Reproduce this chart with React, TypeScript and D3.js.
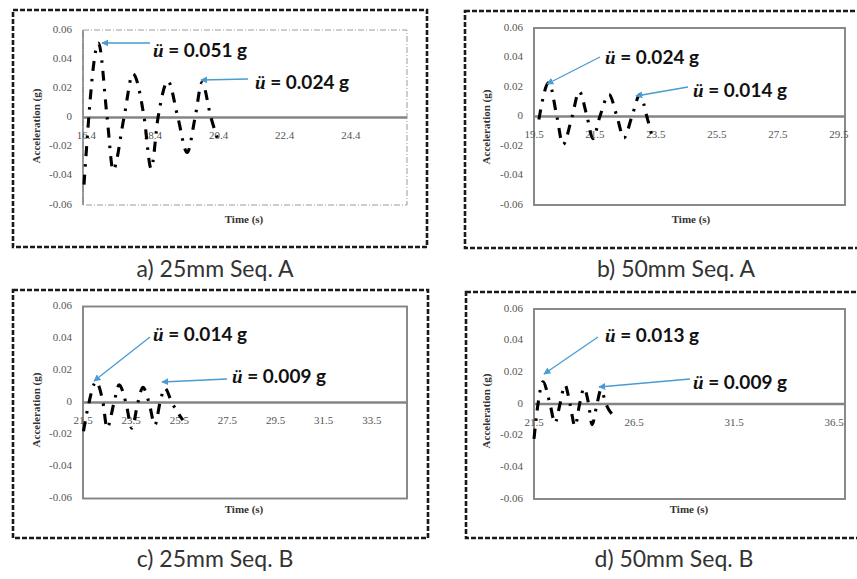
import React from "react";
import * as d3 from "d3";

// ---- data ----
const timeA = [16.33, 16.77, 17.03, 17.21, 17.54, 17.81, 18.15, 18.36, 18.57, 18.87, 19.17, 19.45, 19.69, 19.9, 20.17, 20.44];
const accelA = [-0.046, 0.051, 0, -0.036, 0, 0.03, 0, -0.035, 0, 0.025, 0, -0.024, 0, 0.024, 0, -0.019];

const timeB = [19.66, 19.99, 20.25, 20.45, 20.75, 20.98, 21.24, 21.43, 21.66, 21.96, 22.22, 22.45, 22.71, 22.98, 23.2, 23.37];
const accelB = [-0.002, 0.023, 0, -0.019, 0, 0.017, 0, -0.015, 0, 0.015, 0, -0.0145, 0, 0.015, 0, -0.013];

const timeC = [21.52, 21.75, 22.04, 22.33, 22.5, 22.79, 23.0, 23.28, 23.53, 23.78, 23.99, 24.24, 24.49, 24.7, 24.9, 25.19, 25.65];
const accelC = [-0.018, 0, 0.013, 0, -0.016, 0, 0.011, 0, -0.016, 0, 0.0095, 0, -0.014, 0, 0.009, 0, -0.011];

const timeD = [21.5, 21.7, 21.95, 22.3, 22.55, 22.8, 23.05, 23.3, 23.55, 23.78, 24.0, 24.23, 24.4, 24.65, 24.85, 25.1, 25.6];
const accelD = [-0.022, 0, 0.014, 0, -0.012, 0, 0.012, 0, -0.014, 0, 0.01, 0, -0.013, 0, 0.009, 0, -0.009];

const ticksA = [16.4, 18.4, 20.4, 22.4, 24.4];
const ticksB = [19.5, 21.5, 23.5, 25.5, 27.5, 29.5];
const ticksC = [21.5, 23.5, 25.5, 27.5, 29.5, 31.5, 33.5];
const ticksD = [21.5, 26.5, 31.5, 36.5];
const yTicks = [-0.06, -0.04, -0.02, 0, 0.02, 0.04, 0.06];

const domainA = [16.3, 26.1];
const domainB = [19.5, 29.7];
const domainC = [21.5, 34.96];
const domainD = [21.5, 37.05];

const peaksA = ["0.051", "0.024"];
const peaksB = ["0.024", "0.014"];
const peaksC = ["0.014", "0.009"];
const peaksD = ["0.013", "0.009"];

const captions = ["a) 25mm Seq. A", "b) 50mm Seq. A", "c) 25mm Seq. B", "d) 50mm Seq. B"];
const yTitle = "Acceleration (g)";
const xTitle = "Time (s)";

type Ann = { tx: number; ty: number; ax1: number; ay1: number; ax2: number; ay2: number };

const layouts = [
  {
    box: [13, 10, 427, 247], plot: { l: 83, t: 30, r: 407, b: 205 }, dashedPlot: true,
    cap: [215, 277], yt: [37, 126], xt: [244, 220],
    anns: [
      { tx: 153, ty: 57, ax1: 150, ay1: 43, ax2: 102, ay2: 43 },
      { tx: 255, ty: 89, ax1: 248, ay1: 79, ax2: 201, ay2: 80 },
    ] as Ann[],
  },
  {
    box: [465, 11, 880, 248], plot: { l: 534, t: 28, r: 845, b: 205 }, dashedPlot: false,
    cap: [676, 277], yt: [487, 127], xt: [691, 220],
    anns: [
      { tx: 605, ty: 64, ax1: 600, ay1: 57, ax2: 547, ay2: 84 },
      { tx: 693, ty: 97, ax1: 688, ay1: 87, ax2: 636, ay2: 96 },
    ] as Ann[],
  },
  {
    box: [13, 290, 428, 538], plot: { l: 83, t: 306.5, r: 407, b: 498.5 }, dashedPlot: false,
    cap: [215, 567], yt: [37, 410], xt: [244, 510],
    anns: [
      { tx: 153, ty: 341, ax1: 150, ay1: 337, ax2: 94, ay2: 381 },
      { tx: 232, ty: 383, ax1: 227, ay1: 379, ax2: 162, ay2: 382 },
    ] as Ann[],
  },
  {
    box: [466, 292, 880, 538], plot: { l: 534, t: 309, r: 845, b: 499 }, dashedPlot: false,
    cap: [674, 567], yt: [487, 411], xt: [689, 510],
    anns: [
      { tx: 605, ty: 342, ax1: 598, ay1: 337, ax2: 544, ay2: 374 },
      { tx: 693, ty: 389, ax1: 690, ay1: 379, ax2: 599, ay2: 387 },
    ] as Ann[],
  },
];

const series = [
  { t: timeA, a: accelA, ticks: ticksA, domain: domainA, peaks: peaksA },
  { t: timeB, a: accelB, ticks: ticksB, domain: domainB, peaks: peaksB },
  { t: timeC, a: accelC, ticks: ticksC, domain: domainC, peaks: peaksC },
  { t: timeD, a: accelD, ticks: ticksD, domain: domainD, peaks: peaksD },
];

const ARROW = "#4a9bd1";
const AXIS = "#848484";
const serif = "'Liberation Serif', 'DejaVu Serif', serif";
const sans = "Lato, 'Open Sans', sans-serif";

function fmtY(v: number) {
  return Math.abs(v) < 1e-9 ? "0" : v.toFixed(2);
}

function Panel({ idx }: { idx: number }) {
  const L = layouts[idx];
  const S = series[idx];
  const { l, t, r, b } = L.plot;
  const x = d3.scaleLinear().domain(S.domain).range([l, r]);
  const y = d3.scaleLinear().domain([-0.06, 0.06]).range([b, t]);
  const pts: [number, number][] = S.t.map((tv, i) => [tv, S.a[i]]);
  const line = d3
    .line<[number, number]>()
    .x((d) => x(d[0]))
    .y((d) => y(d[1]))
    .curve(d3.curveMonotoneX);
  const [bx1, by1, bx2, by2] = L.box;
  const y0 = y(0);
  return (
    <g>
      <rect x={bx1} y={by1} width={bx2 - bx1} height={by2 - by1} fill="none" stroke="#1a1a1a" strokeWidth={2.6} strokeDasharray="5,2" />
      {L.dashedPlot ? (
        <g>
          <rect x={l} y={t} width={r - l} height={b - t} fill="none" stroke="#9a9a9a" strokeWidth={1} strokeDasharray="6,2,1,2" />
          <line x1={l} x2={l} y1={t} y2={b} stroke={AXIS} strokeWidth={1.6} />
        </g>
      ) : (
        <rect x={l} y={t} width={r - l} height={b - t} fill="none" stroke={AXIS} strokeWidth={1.9} />
      )}
      <line x1={l} x2={r} y1={y0} y2={y0} stroke={AXIS} strokeWidth={2.4} />
      {yTicks.map((v) => (
        <text key={v} x={l - 11} y={y(v)} textAnchor="end" dominantBaseline="middle" fontFamily={serif} fontSize={11} fill="#555">
          {fmtY(v)}
        </text>
      ))}
      {S.ticks.map((v) => (
        <text key={v} x={x(v)} y={y0 + 19} textAnchor="middle" dominantBaseline="middle" fontFamily={serif} fontSize={11} fill="#555">
          {v.toFixed(1)}
        </text>
      ))}
      <path d={line(pts) || ""} fill="none" stroke="#000" strokeWidth={3.1} strokeDasharray="10,8,2.5,8" />
      <text x={L.yt[0]} y={L.yt[1]} transform={`rotate(-90 ${L.yt[0]} ${L.yt[1]})`} textAnchor="middle" dominantBaseline="middle" fontFamily={serif} fontWeight="bold" fontSize={11} fill="#333">
        {yTitle}
      </text>
      <text x={L.xt[0]} y={L.xt[1]} textAnchor="middle" dominantBaseline="middle" fontFamily={serif} fontWeight="bold" fontSize={11} fill="#333">
        {xTitle}
      </text>
      {L.anns.map((an, i) => (
        <g key={i}>
          <line x1={an.ax1} y1={an.ay1} x2={an.ax2} y2={an.ay2} stroke={ARROW} strokeWidth={1.3} markerEnd="url(#arr)" />
          <text x={an.tx} y={an.ty} fontSize={19} fontWeight="bold" fill="#111">
            <tspan fontFamily={serif} fontStyle="italic">ü</tspan>
            <tspan fontFamily={sans}>{` = ${S.peaks[i]} g`}</tspan>
          </text>
        </g>
      ))}
      <text x={L.cap[0]} y={L.cap[1]} textAnchor="middle" fontFamily={sans} fontSize={23} fill="#333">
        {captions[idx]}
      </text>
    </g>
  );
}

export default function App() {
  return (
    <svg width={857} height={579} style={{ position: "absolute", left: 0, top: 0, background: "#fff" }}>
      <defs>
        <marker id="arr" viewBox="0 0 10 10" refX={9} refY={5} markerWidth={7} markerHeight={7} markerUnits="userSpaceOnUse" orient="auto">
          <path d="M0,0 L10,5 L0,10 z" fill={ARROW} />
        </marker>
      </defs>
      <rect x={0} y={0} width={857} height={579} fill="#fff" />
      {layouts.map((_, i) => (
        <Panel key={i} idx={i} />
      ))}
    </svg>
  );
}
